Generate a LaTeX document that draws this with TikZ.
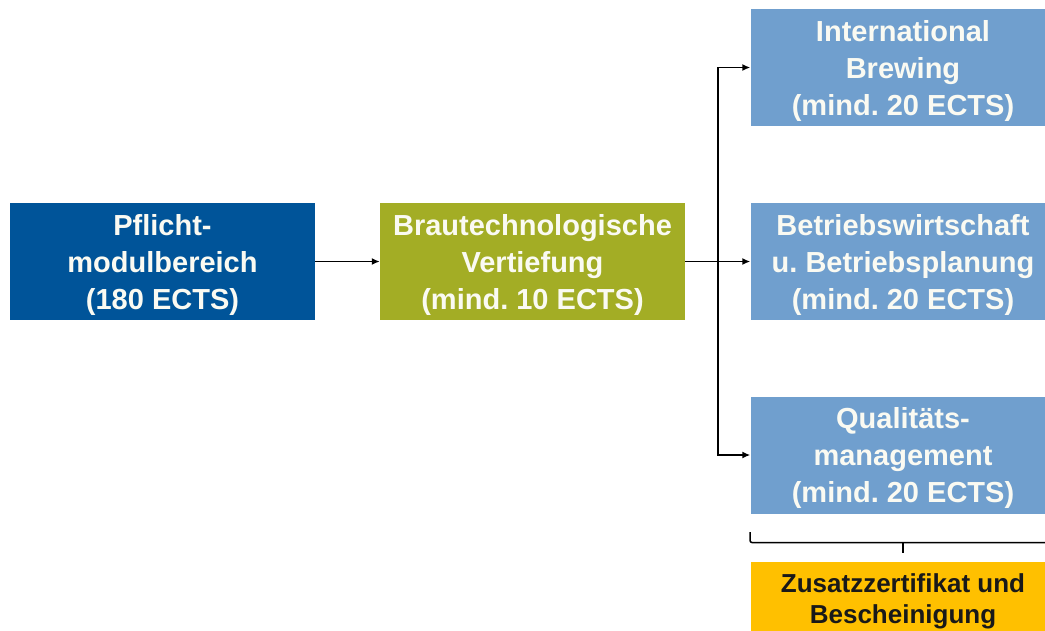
\documentclass[tikz,border=0pt]{standalone}
\usepackage{fontspec}
\setmainfont{Liberation Sans}
\usetikzlibrary{arrows.meta}
\frenchspacing
\definecolor{darkblue}{RGB}{0,84,153}
\definecolor{olive}{RGB}{163,173,37}
\definecolor{lightblue}{RGB}{112,159,206}
\definecolor{gold}{RGB}{255,192,0}
\definecolor{offwhite}{RGB}{250,250,242}
\newcommand{\boxtext}[1]{\begin{tabular}{@{}c@{}}#1\end{tabular}}
\tikzset{
  box/.style={minimum width=305pt, minimum height=117pt, inner sep=0pt,
    text height=65pt, text depth=46pt,
    text=offwhite, font=\fontsize{29}{37}\selectfont\bfseries},
  arr/.style={line width=1.5pt, -{Latex[length=8pt,width=7pt]}},
}
\begin{document}
\begin{tikzpicture}[x=1pt,y=-1pt]
\useasboundingbox (0,0) rectangle (1045,630);
\clip (0,0) rectangle (1045,630);
\node[box, fill=darkblue] (A) at (162.5,261.5) {\boxtext{Pflicht-\\modulbereich\\(180 ECTS)}};
\node[box, fill=olive] (B) at (532.5,261.5) {\boxtext{Brautechnologische\\Vertiefung\\(mind. 10 ECTS)}};
\node[box, fill=lightblue] (T) at (903,67.5) {\boxtext{International\\Brewing\\(mind. 20 ECTS)}};
\node[box, fill=lightblue] (M) at (903,261.5) {\boxtext{Betriebswirtschaft\\u. Betriebsplanung\\(mind. 20 ECTS)}};
\node[box, fill=lightblue] (Q) at (903,455) {\boxtext{Qualitäts-\\management\\(mind. 20 ECTS)}};
\node[box, fill=gold, text=black!90, minimum height=73pt, anchor=north,
  text height=41pt, text depth=23pt,
  font=\fontsize{26}{31}\selectfont\bfseries] (Z) at (903,562)
  {\boxtext{Zusatzzertifikat und\\Bescheinigung}};
\coordinate (j) at (718,261.5);
\draw[arr] (A.east) -- (B.west);
\draw[arr] (B.east) -- (M.west);
\draw[arr] (j) |- (T.west);
\draw[arr] (j) |- (Q.west);
\coordinate (bl) at (750,532);
\coordinate (br) at (1056,532);
\coordinate (bc) at (903,553);
\draw[line width=1.5pt, rounded corners=2pt] (bl) |- (1056,542.5) -- (br);
\draw[line width=1.5pt] (903,542.5) -- (bc);
\end{tikzpicture}
\end{document}
